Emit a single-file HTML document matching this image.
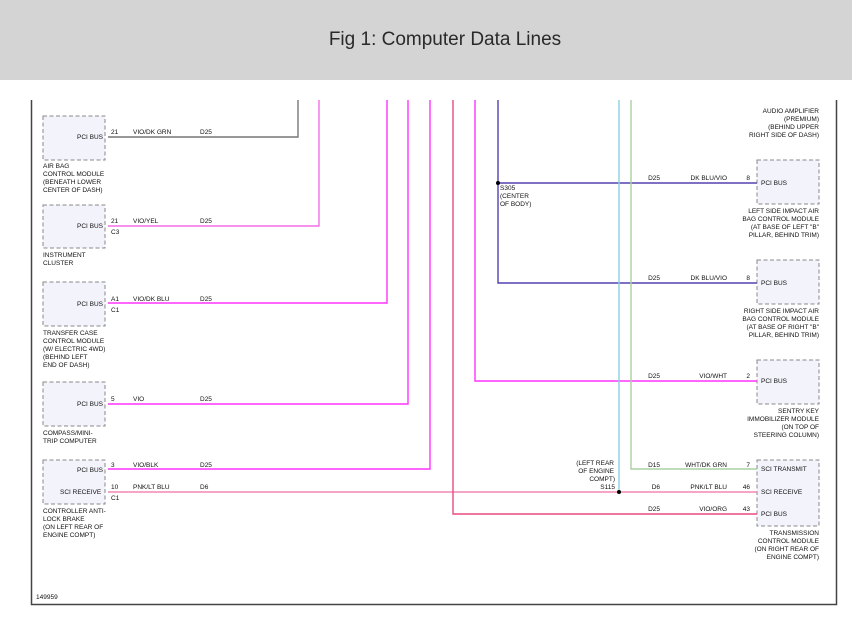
<!DOCTYPE html>
<html><head><meta charset="utf-8"><style>
body{margin:0;background:#fff;width:852px;height:620px;overflow:hidden;font-family:"Liberation Sans",sans-serif}
.hdr{position:absolute;left:0;top:0;width:852px;height:80px;background:#d4d4d4;text-align:center;line-height:80px;font-size:19px;color:#2a2a2a;padding-left:38px;box-sizing:border-box}
svg{position:absolute;left:0;top:0}
text{font-family:"Liberation Sans",sans-serif;font-size:6.5px;fill:#111}
</style></head><body>
<div class="hdr">Fig 1: Computer Data Lines</div>
<svg width="852" height="620" viewBox="0 0 852 620">
<path d="M31.5 100 V604.5 H836.5 V100" fill="none" stroke="#444" stroke-width="1.5"/>
<g fill="#f3f3fc" stroke="#888" stroke-dasharray="4,2.5" stroke-width="1">
<rect x="43" y="116" width="62" height="44"/><rect x="43" y="205" width="62" height="43"/>
<rect x="43" y="282" width="62" height="44"/><rect x="43" y="382" width="62" height="44"/>
<rect x="43" y="460" width="62" height="44"/>
<rect x="757" y="160" width="62" height="44"/><rect x="757" y="260" width="62" height="44"/>
<rect x="757" y="360" width="62" height="44"/><rect x="757" y="460" width="62" height="66"/>
</g>
<g fill="none" stroke-width="1.4">
<path d="M108 137H298V100" stroke="#777"/>
<path d="M108 226H319V100" stroke="#f46ee8"/>
<path d="M108 303H387V100" stroke="#ff33ff"/>
<path d="M108 404H408V100" stroke="#ff33ff"/>
<path d="M108 469H430V100" stroke="#ff33ff"/>
<path d="M108 492H757" stroke="#f288b0"/>
<path d="M757 514H453V100" stroke="#e84a80"/>
<path d="M757 381H475V100" stroke="#ff33ff"/>
<path d="M498 100V283H757M498 183H757" stroke="#5540b0"/>
<path d="M619 100V492" stroke="#8cd0e0"/>
<path d="M757 469H631V100" stroke="#a8d0a0"/>
</g>
<circle cx="498" cy="183" r="2" fill="#000"/><circle cx="619" cy="492" r="2" fill="#000"/>
<g>
<text x="77" y="139">PCI BUS</text><text x="111" y="134">21</text><text x="133" y="134">VIO/DK GRN</text><text x="200" y="134">D25</text>
<text x="43" y="168">AIR BAG</text><text x="43" y="176">CONTROL MODULE</text><text x="43" y="184">(BENEATH LOWER</text><text x="43" y="192">CENTER OF DASH)</text>
<text x="77" y="228">PCI BUS</text><text x="111" y="223">21</text><text x="111" y="234">C3</text><text x="133" y="223">VIO/YEL</text><text x="200" y="223">D25</text>
<text x="43" y="257">INSTRUMENT</text><text x="43" y="265">CLUSTER</text>
<text x="77" y="306">PCI BUS</text><text x="111" y="301">A1</text><text x="111" y="312">C1</text><text x="133" y="301">VIO/DK BLU</text><text x="200" y="301">D25</text>
<text x="43" y="335">TRANSFER CASE</text><text x="43" y="343">CONTROL MODULE</text><text x="43" y="351">(W/ ELECTRIC 4WD)</text><text x="43" y="359">(BEHIND LEFT</text><text x="43" y="367">END OF DASH)</text>
<text x="77" y="406">PCI BUS</text><text x="111" y="401">5</text><text x="133" y="401">VIO</text><text x="200" y="401">D25</text>
<text x="43" y="435">COMPASS/MINI-</text><text x="43" y="443">TRIP COMPUTER</text>
<text x="77" y="472">PCI BUS</text><text x="60" y="494">SCI RECEIVE</text>
<text x="111" y="467">3</text><text x="133" y="467">VIO/BLK</text><text x="200" y="467">D25</text>
<text x="111" y="489">10</text><text x="111" y="500">C1</text><text x="133" y="489">PNK/LT BLU</text><text x="200" y="489">D6</text>
<text x="43" y="513">CONTROLLER ANTI-</text><text x="43" y="521">LOCK BRAKE</text><text x="43" y="529">(ON LEFT REAR OF</text><text x="43" y="537">ENGINE COMPT)</text>
<text x="36" y="599">149959</text>
<text x="500" y="190">S305</text><text x="500" y="198">(CENTER</text><text x="500" y="206">OF BODY)</text>
<g text-anchor="end">
<text x="819" y="113">AUDIO AMPLIFIER</text><text x="819" y="121">(PREMIUM)</text><text x="819" y="129">(BEHIND UPPER</text><text x="819" y="137">RIGHT SIDE OF DASH)</text>
<text x="819" y="213">LEFT SIDE IMPACT AIR</text><text x="819" y="221">BAG CONTROL MODULE</text><text x="819" y="229">(AT BASE OF LEFT "B"</text><text x="819" y="237">PILLAR, BEHIND TRIM)</text>
<text x="819" y="313">RIGHT SIDE IMPACT AIR</text><text x="819" y="321">BAG CONTROL MODULE</text><text x="819" y="329">(AT BASE OF RIGHT "B"</text><text x="819" y="337">PILLAR, BEHIND TRIM)</text>
<text x="819" y="413">SENTRY KEY</text><text x="819" y="421">IMMOBILIZER MODULE</text><text x="819" y="429">(ON TOP OF</text><text x="819" y="437">STEERING COLUMN)</text>
<text x="819" y="535">TRANSMISSION</text><text x="819" y="543">CONTROL MODULE</text><text x="819" y="551">(ON RIGHT REAR OF</text><text x="819" y="559">ENGINE COMPT)</text>
<text x="614" y="465">(LEFT REAR</text><text x="614" y="473">OF ENGINE</text><text x="615" y="481">COMPT)</text><text x="615" y="489">S115</text>
<text x="727" y="180">DK BLU/VIO</text><text x="727" y="280">DK BLU/VIO</text><text x="727" y="378">VIO/WHT</text>
<text x="727" y="467">WHT/DK GRN</text><text x="727" y="489">PNK/LT BLU</text><text x="727" y="511">VIO/ORG</text>
<text x="660" y="180">D25</text><text x="660" y="280">D25</text><text x="660" y="378">D25</text><text x="660" y="467">D15</text><text x="660" y="489">D6</text><text x="660" y="511">D25</text>
<text x="750" y="180">8</text><text x="750" y="280">8</text><text x="750" y="378">2</text><text x="750" y="467">7</text><text x="750" y="489">46</text><text x="750" y="511">43</text>
</g>
<text x="761" y="185">PCI BUS</text><text x="761" y="285">PCI BUS</text><text x="761" y="383">PCI BUS</text>
<text x="761" y="471">SCI TRANSMIT</text><text x="761" y="494">SCI RECEIVE</text><text x="761" y="516">PCI BUS</text>
</g>
</svg>
</body></html>
